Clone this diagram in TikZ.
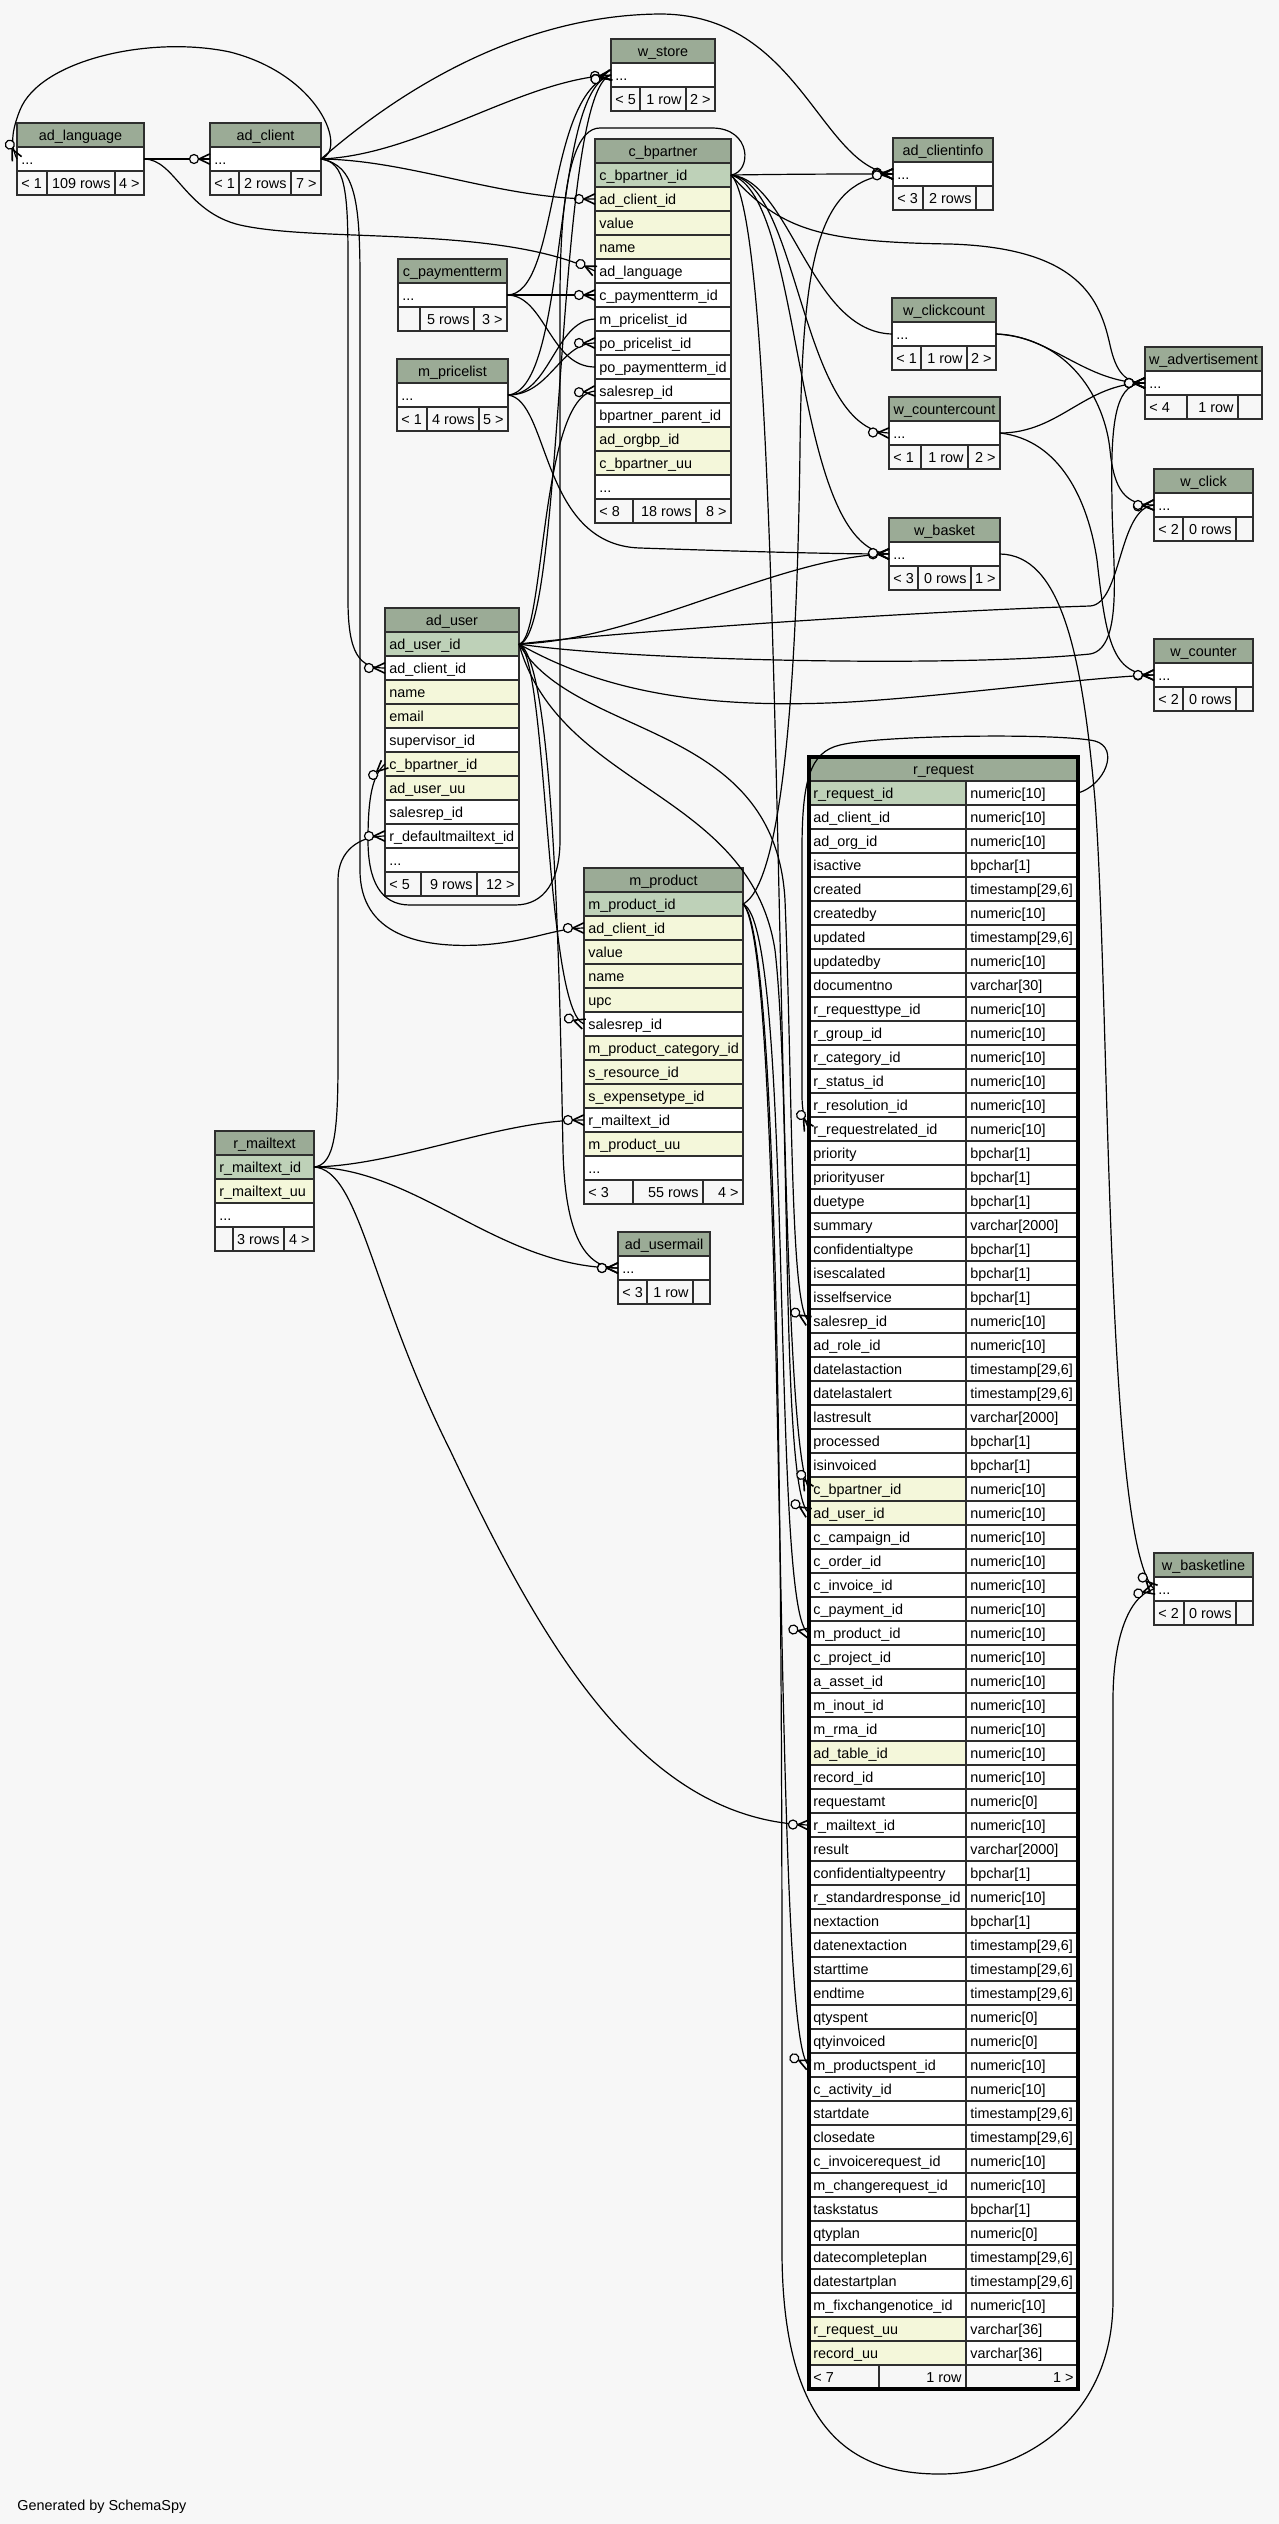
\documentclass[tikz,border=0pt]{standalone}
\usepackage{fontspec}
\setmainfont{Liberation Sans}
\usetikzlibrary{decorations.markings}
\definecolor{bgc}{HTML}{F7F7F7}
\definecolor{hdc}{HTML}{9BAB96}
\definecolor{pk}{HTML}{BED1B8}
\definecolor{ix}{HTML}{F4F7DA}
\definecolor{wh}{HTML}{FFFFFF}
\definecolor{cellline}{HTML}{2E2E2E}
\newcommand\crowmark{%
  \draw[line width=0.8pt] (-5.5pt,0pt) -- (0pt,2.6pt) (-5.5pt,0pt) -- (0pt,-2.6pt);
  \draw[line width=0.6pt,fill=bgc] (-8pt,0pt) circle[radius=2.25pt];}
% #1 prefix, #2 xl, #3 xr, #4 ytop, #5 title, #6 rows
\newcommand\dbtable[6]{%
  \draw[cell,fill=hdc] (#2,#4) rectangle (#3,#4+24);
  \node[txt,anchor=base] (#1-h) at ({(#2+#3)/2},#4+17) {#5};
  \foreach \cf/\cn [count=\i] in {#6} {
    \draw[cell,fill=\cf] (#2,#4+24*\i) rectangle (#3,#4+24*\i+24);
    \node[txt,anchor=base west] (#1-\i) at (#2+4,#4+24*\i+17) {\cn};
    \coordinate (#1-\i-w) at (#2,#4+24*\i+12);
    \coordinate (#1-\i-e) at (#3,#4+24*\i+12);
  }}
% #1 prefix, #2 xl, #3 d1, #4 d2, #5 xr, #6 ytop, #7 t1, #8 t2, #9 t3
\newcommand\dbfoot[9]{%
  \draw[cell,fill=bgc] (#2,#6) rectangle (#3,#6+24);
  \draw[cell,fill=bgc] (#3,#6) rectangle (#4,#6+24);
  \draw[cell,fill=bgc] (#4,#6) rectangle (#5,#6+24);
  \node[txt,anchor=base west] (#1-fa) at (#2+4,#6+17) {#7};
  \node[txt,anchor=base east] (#1-fb) at (#4-4,#6+17) {#8};
  \node[txt,anchor=base east] (#1-fc) at (#5-4,#6+17) {#9};}
\begin{document}
\begin{tikzpicture}[x=0.5pt,y=-0.5pt,
  cell/.style={draw=cellline,line width=0.7pt},
  txt/.style={inner sep=0pt,font=\fontsize{7.2pt}{8.6pt}\selectfont,text=black},
  fk/.style={draw=black,line width=0.6pt,postaction={decorate},
    decoration={markings,mark=at position 0.9999 with {\crowmark}}}]
\fill[bgc] (0,0) rectangle (1279,2524);
\useasboundingbox (0,0) rectangle (1279,2524);

% ---------- tables ----------
\dbtable{lang}{17}{144}{123}{ad\_language}{wh/{...}}
\dbfoot{lang}{17}{47}{115}{144}{171}{< 1}{109 rows}{4 >}
\dbtable{cli}{210}{321}{123}{ad\_client}{wh/{...}}
\dbfoot{cli}{210}{239}{291}{321}{171}{< 1}{2 rows}{7 >}
\dbtable{wst}{611}{715}{39}{w\_store}{wh/{...}}
\dbfoot{wst}{611}{640}{686}{715}{87}{< 5}{1 row}{2 >}
\dbtable{cinfo}{893}{993}{138}{ad\_clientinfo}{wh/{...}}
\dbfoot{cinfo}{893}{923}{976}{993}{186}{< 3}{2 rows}{}
\dbtable{cbp}{595}{731}{139}{c\_bpartner}{pk/c\_bpartner\_id, ix/ad\_client\_id, ix/value, ix/name, wh/ad\_language, wh/c\_paymentterm\_id, wh/m\_pricelist\_id, wh/po\_pricelist\_id, wh/po\_paymentterm\_id, wh/salesrep\_id, wh/bpartner\_parent\_id, ix/ad\_orgbp\_id, ix/c\_bpartner\_uu, wh/{...}}
\dbfoot{cbp}{595}{633}{696}{731}{499}{< 8}{18 rows}{8 >}
\dbtable{pterm}{398}{507}{259}{c\_paymentterm}{wh/{...}}
\dbfoot{pterm}{398}{420}{474}{507}{307}{}{5 rows}{3 >}
\dbtable{plist}{397}{508}{359}{m\_pricelist}{wh/{...}}
\dbfoot{plist}{397}{427}{479}{508}{407}{< 1}{4 rows}{5 >}
\dbtable{wclc}{892}{996}{298}{w\_clickcount}{wh/{...}}
\dbfoot{wclc}{892}{921}{967}{996}{346}{< 1}{1 row}{2 >}
\dbtable{wcnc}{889}{1000}{397}{w\_countercount}{wh/{...}}
\dbfoot{wcnc}{889}{921}{968}{1000}{445}{< 1}{1 row}{2 >}
\dbtable{wbsk}{889}{1000}{518}{w\_basket}{wh/{...}}
\dbfoot{wbsk}{889}{918}{971}{1000}{566}{< 3}{0 rows}{1 >}
\dbtable{wadv}{1145}{1262}{347}{w\_advertisement}{wh/{...}}
\dbfoot{wadv}{1145}{1187}{1238}{1262}{395}{< 4}{1 row}{}
\dbtable{wclk}{1154}{1253}{469}{w\_click}{wh/{...}}
\dbfoot{wclk}{1154}{1183}{1236}{1253}{517}{< 2}{0 rows}{}
\dbtable{wcnt}{1154}{1253}{639}{w\_counter}{wh/{...}}
\dbfoot{wcnt}{1154}{1183}{1236}{1253}{687}{< 2}{0 rows}{}
\dbtable{wbl}{1154}{1253}{1553}{w\_basketline}{wh/{...}}
\dbfoot{wbl}{1154}{1184}{1236}{1253}{1601}{< 2}{0 rows}{}
\dbtable{usr}{385}{519}{608}{ad\_user}{pk/ad\_user\_id, wh/ad\_client\_id, ix/name, ix/email, wh/supervisor\_id, ix/c\_bpartner\_id, ix/ad\_user\_uu, wh/salesrep\_id, wh/r\_defaultmailtext\_id, wh/{...}}
\dbfoot{usr}{385}{421}{477}{519}{872}{< 5}{9 rows}{12 >}
\dbtable{prod}{584}{743}{868}{m\_product}{pk/m\_product\_id, ix/ad\_client\_id, ix/value, ix/name, ix/upc, wh/salesrep\_id, ix/m\_product\_category\_id, ix/s\_resource\_id, ix/s\_expensetype\_id, wh/r\_mailtext\_id, ix/m\_product\_uu, wh/{...}}
\dbfoot{prod}{584}{633}{703}{743}{1180}{< 3}{55 rows}{4 >}
\dbtable{umail}{618}{710}{1232}{ad\_usermail}{wh/{...}}
\dbfoot{umail}{618}{647}{693}{710}{1280}{< 3}{1 row}{}
\dbtable{mail}{215}{314}{1131}{r\_mailtext}{pk/r\_mailtext\_id, ix/r\_mailtext\_uu, wh/{...}}
\dbfoot{mail}{215}{233}{284}{314}{1227}{}{3 rows}{4 >}

% r_request
\draw[cell,fill=hdc] (809,757) rectangle (1078,781);
\node[txt,anchor=base] (rq-h) at (943.5,774) {r\_request};
\foreach \cf/\cn/\ct [count=\i] in {
 pk/r\_request\_id/numeric[10], wh/ad\_client\_id/numeric[10], wh/ad\_org\_id/numeric[10],
 wh/isactive/bpchar[1], wh/created/{timestamp[29,6]}, wh/createdby/numeric[10],
 wh/updated/{timestamp[29,6]}, wh/updatedby/numeric[10], wh/documentno/varchar[30],
 wh/r\_requesttype\_id/numeric[10], wh/r\_group\_id/numeric[10], wh/r\_category\_id/numeric[10],
 wh/r\_status\_id/numeric[10], wh/r\_resolution\_id/numeric[10], wh/r\_requestrelated\_id/numeric[10],
 wh/priority/bpchar[1], wh/priorityuser/bpchar[1], wh/duetype/bpchar[1],
 wh/summary/varchar[2000], wh/confidentialtype/bpchar[1], wh/isescalated/bpchar[1],
 wh/isselfservice/bpchar[1], wh/salesrep\_id/numeric[10], wh/ad\_role\_id/numeric[10],
 wh/datelastaction/{timestamp[29,6]}, wh/datelastalert/{timestamp[29,6]}, wh/lastresult/varchar[2000],
 wh/processed/bpchar[1], wh/isinvoiced/bpchar[1], ix/c\_bpartner\_id/numeric[10],
 ix/ad\_user\_id/numeric[10], wh/c\_campaign\_id/numeric[10], wh/c\_order\_id/numeric[10],
 wh/c\_invoice\_id/numeric[10], wh/c\_payment\_id/numeric[10], wh/m\_product\_id/numeric[10],
 wh/c\_project\_id/numeric[10], wh/a\_asset\_id/numeric[10], wh/m\_inout\_id/numeric[10],
 wh/m\_rma\_id/numeric[10], ix/ad\_table\_id/numeric[10], wh/record\_id/numeric[10],
 wh/requestamt/numeric[0], wh/r\_mailtext\_id/numeric[10], wh/result/varchar[2000],
 wh/confidentialtypeentry/bpchar[1], wh/r\_standardresponse\_id/numeric[10], wh/nextaction/bpchar[1],
 wh/datenextaction/{timestamp[29,6]}, wh/starttime/{timestamp[29,6]}, wh/endtime/{timestamp[29,6]},
 wh/qtyspent/numeric[0], wh/qtyinvoiced/numeric[0], wh/m\_productspent\_id/numeric[10],
 wh/c\_activity\_id/numeric[10], wh/startdate/{timestamp[29,6]}, wh/closedate/{timestamp[29,6]},
 wh/c\_invoicerequest\_id/numeric[10], wh/m\_changerequest\_id/numeric[10], wh/taskstatus/bpchar[1],
 wh/qtyplan/numeric[0], wh/datecompleteplan/{timestamp[29,6]}, wh/datestartplan/{timestamp[29,6]},
 wh/m\_fixchangenotice\_id/numeric[10], ix/r\_request\_uu/varchar[36], ix/record\_uu/varchar[36]} {
  \draw[cell,fill=\cf] (809,757+24*\i) rectangle (966,781+24*\i);
  \draw[cell,fill=wh] (966,757+24*\i) rectangle (1078,781+24*\i);
  \node[txt,anchor=base west] (rq-\i) at (813,774+24*\i) {\cn};
  \node[txt,anchor=base west] (rq-\i-t) at (970,774+24*\i) {\ct};
  \coordinate (rq-\i-w) at (809,769+24*\i);
  \coordinate (rq-\i-e) at (1078,769+24*\i);
}
\dbfoot{rq}{809}{879}{966}{1078}{2365}{< 7}{1 row}{1 >}
\draw[line width=1.8pt] (809,757) rectangle (1078,2389);

\node[txt,anchor=base west] (gen) at (17,2510) {Generated by SchemaSpy};

% ---------- connectors ----------
\draw[fk] (lang-1-e) -- (cli-1-w);
\draw[fk] (cli-1-e) .. controls (348,150) and (320,75) .. (230,52) .. controls (150,35) and (40,60) .. (20,110) .. controls (12,130) and (10,145) .. (lang-1-w);
\draw[fk] (cli-1-e) .. controls (420,155) and (520,80) .. (wst-1-w);
\draw[fk] (cli-1-e) .. controls (400,90) and (520,15) .. (660,14) .. controls (800,14) and (820,168) .. (cinfo-1-w);
\draw[fk] (cli-1-e) .. controls (410,160) and (500,199) .. (cbp-2-w);
\draw[fk] (cli-1-e) .. controls (345,162) and (348,190) .. (348,260) -- (348,600) .. controls (348,655) and (360,668) .. (usr-2-w);
\draw[fk] (cli-1-e) .. controls (355,165) and (360,200) .. (360,280) -- (360,870) .. controls (360,935) and (420,948) .. (480,945) .. controls (530,942) and (555,928) .. (prod-2-w);
\draw[fk] (lang-1-e) .. controls (175,159) and (185,212) .. (240,225) .. controls (320,243) and (500,225) .. (cbp-5-w);
\draw[fk] (pterm-1-e) -- (cbp-6-w);
\draw[fk] (pterm-1-e) .. controls (545,295) and (550,367) .. (cbp-9-w);
\draw[fk] (pterm-1-e) .. controls (560,295) and (545,95) .. (wst-1-w);
\draw[fk] (plist-1-e) .. controls (550,395) and (555,320) .. (cbp-7-w);
\draw[fk] (plist-1-e) .. controls (550,395) and (560,343) .. (cbp-8-w);
\draw[fk] (plist-1-e) .. controls (570,390) and (550,90) .. (wst-1-w);
\draw[fk] (plist-1-e) .. controls (550,400) and (540,545) .. (640,548) .. controls (760,552) and (840,554) .. (wbsk-1-w);
\draw[fk] (usr-1-e) .. controls (565,640) and (555,90) .. (wst-1-w);
\draw[fk] (usr-1-e) .. controls (545,640) and (540,395) .. (cbp-10-w);
\draw[fk] (usr-1-e) .. controls (640,640) and (780,556) .. (wbsk-1-w);
\draw[fk] (usr-1-e) .. controls (620,632) and (900,612) .. (1090,606) .. controls (1122,604) and (1118,508) .. (wclk-1-w);
\draw[fk] (usr-1-e) .. controls (620,660) and (950,668) .. (1090,654) .. controls (1125,648) and (1112,560) .. (1112,500) .. controls (1110,410) and (1118,383) .. (wadv-1-w);
\draw[fk] (usr-1-e) .. controls (600,690) and (700,710) .. (850,702) .. controls (950,696) and (1090,677) .. (wcnt-1-w);
\draw[fk] (usr-1-e) .. controls (548,660) and (545,1010) .. (prod-6-w);
\draw[fk] (usr-1-e) .. controls (555,660) and (560,1000) .. (563,1150) .. controls (565,1235) and (585,1268) .. (umail-1-w);
\draw[fk] (usr-1-e) .. controls (575,740) and (775,720) .. (785,900) .. controls (793,1100) and (790,1310) .. (rq-23-w);
\draw[fk] (usr-1-e) .. controls (560,790) and (750,790) .. (775,950) .. controls (792,1100) and (780,1495) .. (rq-31-w);
\draw[fk] (cbp-1-e) .. controls (800,174) and (840,174) .. (cinfo-1-w);
\draw[fk] (cbp-1-e) .. controls (790,180) and (810,332) .. (wclc-1-w);
\draw[fk] (cbp-1-e) .. controls (800,185) and (800,430) .. (wcnc-1-w);
\draw[fk] (cbp-1-e) .. controls (805,195) and (790,548) .. (wbsk-1-w);
\draw[fk] (cbp-1-e) .. controls (780,230) and (820,242) .. (950,244) .. controls (1080,248) and (1100,300) .. (1110,345) .. controls (1116,372) and (1125,383) .. (wadv-1-w);
\draw[fk] (cbp-1-e) .. controls (790,230) and (770,1420) .. (rq-30-w);
\draw[fk] (cbp-1-e) .. controls (752,172) and (752,128) .. (712,128) -- (600,128) .. controls (580,128) and (560,160) .. (560,300) -- (560,840) .. controls (560,880) and (545,905) .. (515,905) -- (410,905) .. controls (380,905) and (368,880) .. (368,840) .. controls (368,795) and (373,775) .. (usr-6-w);
\draw[fk] (mail-1-e) .. controls (335,1165) and (338,1130) .. (338,1060) -- (338,880) .. controls (338,850) and (360,836) .. (usr-9-w);
\draw[fk] (mail-1-e) .. controls (400,1165) and (500,1120) .. (prod-10-w);
\draw[fk] (mail-1-e) .. controls (420,1170) and (500,1268) .. (umail-1-w);
\draw[fk] (mail-1-e) .. controls (360,1170) and (370,1290) .. (450,1450) .. controls (540,1640) and (640,1820) .. (rq-44-w);
\draw[fk] (prod-1-e) .. controls (795,925) and (770,1625) .. (rq-36-w);
\draw[fk] (prod-1-e) .. controls (790,950) and (770,2050) .. (rq-54-w);
\draw[fk] (prod-1-e) .. controls (790,880) and (798,600) .. (800,450) .. controls (802,250) and (820,180) .. (cinfo-1-w);
\draw[fk] (prod-1-e) .. controls (785,935) and (782,1800) .. (782,2250) .. controls (782,2440) and (860,2474) .. (940,2474) .. controls (1020,2474) and (1113,2420) .. (1113,2300) -- (1113,1700) .. controls (1113,1640) and (1128,1596) .. (wbl-1-w);
\draw[fk] (wbsk-1-e) .. controls (1060,555) and (1082,650) .. (1095,800) .. controls (1110,1000) and (1105,1540) .. (wbl-1-w);
\draw[fk] (wclc-1-e) .. controls (1050,335) and (1085,383) .. (wadv-1-w);
\draw[fk] (wcnc-1-e) .. controls (1060,433) and (1085,383) .. (wadv-1-w);
\draw[fk] (wclc-1-e) .. controls (1070,338) and (1105,400) .. (1110,450) .. controls (1114,490) and (1125,505) .. (wclk-1-w);
\draw[fk] (wcnc-1-e) .. controls (1060,440) and (1088,500) .. (1097,560) .. controls (1106,640) and (1112,675) .. (wcnt-1-w);
\draw[fk] (rq-1-e) .. controls (1105,785) and (1120,748) .. (1095,741) .. controls (1060,733) and (880,735) .. (840,745) .. controls (810,752) and (802,780) .. (802,850) -- (802,1095) .. controls (802,1112) and (805,1122) .. (rq-15-w);
\end{tikzpicture}
\end{document}
